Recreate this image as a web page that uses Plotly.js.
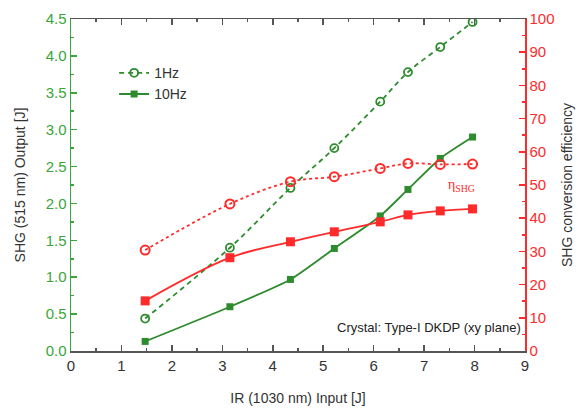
<!DOCTYPE html>
<html>
<head>
<meta charset="utf-8">
<script src="https://cdn.plot.ly/plotly-3.0.1.min.js"></script>
<style>html,body{margin:0;padding:0;background:#fff;}#chart{width:584px;height:414px;}</style>
</head>
<body>
<div id="chart"></div>
<script>
const irInput = [1.47, 3.15, 4.35, 5.22, 6.13, 6.68, 7.32, 7.96];
const shg1Hz = [0.44, 1.40, 2.21, 2.75, 3.38, 3.78, 4.12, 4.46];
const shg10Hz = [0.13, 0.60, 0.97, 1.39, 1.83, 2.19, 2.61, 2.90];
const eff1Hz = [30.4, 44.3, 51.0, 52.5, 55.0, 56.5, 56.2, 56.3];
const eff10Hz = [15.1, 28.1, 32.9, 35.9, 38.9, 41.0, 42.2, 42.8];

const GREEN = '#2e8b2e';
const GREEN_AX = '#3aa53a';
const RED = '#ff2b2b';

const traces = [
  {x: irInput, y: eff1Hz, yaxis: 'y2', mode: 'lines+markers', name: 'eff 1Hz', showlegend: false,
   line: {color: RED, width: 1.8, dash: '3px,3px', shape: 'spline'},
   marker: {symbol: 'circle-open', size: 9, color: RED, line: {width: 2, color: RED}}},
  {x: irInput, y: eff10Hz, yaxis: 'y2', mode: 'lines+markers', name: 'eff 10Hz', showlegend: false,
   line: {color: RED, width: 1.8, shape: 'spline'},
   marker: {symbol: 'square', size: 9, color: RED}},
  {x: irInput, y: shg1Hz, mode: 'lines+markers', name: '1Hz',
   line: {color: GREEN, width: 1.8, dash: '5px,4px', shape: 'spline'},
   marker: {symbol: 'circle-open', size: 8, color: GREEN, line: {width: 1.8, color: GREEN}}},
  {x: irInput, y: shg10Hz, mode: 'lines+markers', name: '10Hz',
   line: {color: GREEN, width: 1.8, shape: 'spline', smoothing: 0.6},
   marker: {symbol: 'square', size: 7, color: GREEN}}
];

const layout = {
  width: 584, height: 414,
  margin: {l: 71, r: 59, t: 19, b: 63},
  paper_bgcolor: '#fff', plot_bgcolor: '#fff',
  font: {family: 'Liberation Sans, Arial, sans-serif', size: 15, color: '#333'},
  showlegend: true,
  legend: {x: 0.095, y: 0.885, xanchor: 'left', yanchor: 'top', bgcolor: 'rgba(0,0,0,0)',
           font: {size: 14, color: '#333'}, tracegroupgap: 0, itemwidth: 30},
  xaxis: {
    range: [0, 9], dtick: 1, tick0: 0, showgrid: false, zeroline: false,
    showline: true, linecolor: '#555', linewidth: 1.5, mirror: 'ticks',
    ticks: 'inside', ticklen: 6, tickcolor: '#555', tickwidth: 1.5,
    minor: {ticks: 'inside', ticklen: 3, dtick: 0.5, tickcolor: '#555', showgrid: false},
    tickfont: {size: 15, color: '#333'},
    title: {text: 'IR (1030 nm) Input [J]', font: {size: 14, color: '#333'}, standoff: 20}
  },
  yaxis: {
    range: [0, 4.5], dtick: 0.5, tick0: 0, tickformat: '.1f', showgrid: false, zeroline: false,
    showline: true, linecolor: GREEN_AX, linewidth: 1.5,
    ticks: 'inside', ticklen: 6, tickcolor: GREEN_AX, tickwidth: 1.5,
    minor: {ticks: 'inside', ticklen: 3, dtick: 0.25, tickcolor: GREEN_AX, showgrid: false},
    tickfont: {size: 15, color: GREEN_AX},
    title: {text: 'SHG (515 nm) Output [J]', font: {size: 14, color: '#333'}, standoff: 16}
  },
  yaxis2: {
    overlaying: 'y', side: 'right', range: [0, 100], dtick: 10, tick0: 0,
    showgrid: false, zeroline: false,
    showline: true, linecolor: RED, linewidth: 1.5,
    ticks: 'inside', ticklen: 6, tickcolor: RED, tickwidth: 1.5,
    minor: {ticks: 'inside', ticklen: 3, dtick: 5, tickcolor: RED, showgrid: false},
    tickfont: {size: 15, color: RED},
    title: {text: 'SHG conversion efficiency', font: {size: 14, color: '#333'}, standoff: 8}
  },
  annotations: [
    {xref: 'x', yref: 'y2', x: 7.75, y: 50, text: 'η<sub>SHG</sub>', showarrow: false,
     font: {family: 'Liberation Serif, serif', size: 14, color: RED}},
    {xref: 'paper', yref: 'paper', x: 0.995, y: 0.07, xanchor: 'right', yanchor: 'middle',
     text: 'Crystal: Type-I DKDP (xy plane)', showarrow: false,
     font: {size: 13, color: '#222'}}
  ]
};

Plotly.newPlot('chart', traces, layout, {displayModeBar: false, staticPlot: true});
</script>
</body>
</html>
